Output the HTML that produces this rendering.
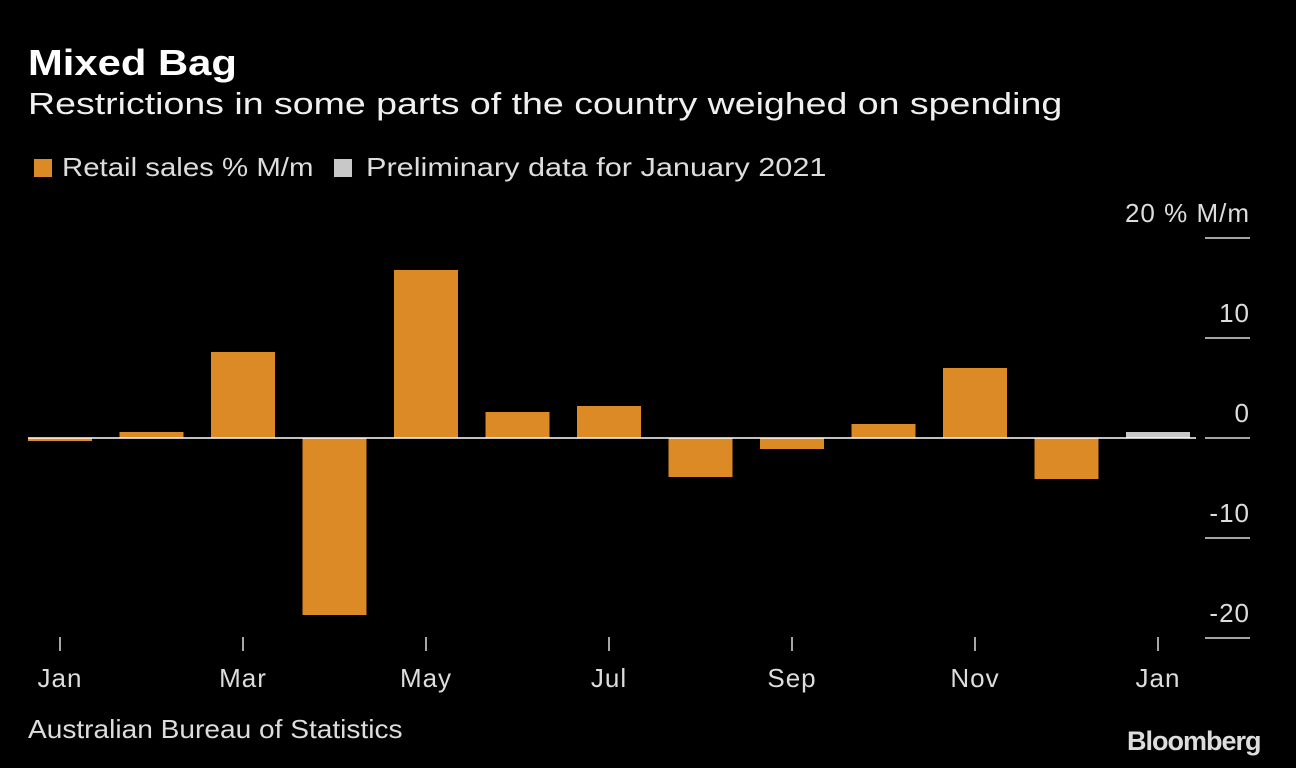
<!DOCTYPE html>
<html><head><meta charset="utf-8"><style>
body{margin:0;background:#000;width:1296px;height:768px;overflow:hidden;font-family:"Liberation Sans",sans-serif;color:#fff}
.t{position:absolute;white-space:nowrap;transform-origin:0 0}
.sq{display:inline-block;width:18px;height:18px;margin-right:10px}
</style></head><body>
<div class="t" style="left:28px;top:42px;font-size:36px;font-weight:bold;transform:scaleX(1.16)">Mixed Bag</div>
<div class="t" style="left:28px;top:86px;font-size:31px;color:#f0f0f0;transform:scaleX(1.21)">Restrictions in some parts of the country weighed on spending</div>
<div class="t" style="left:34px;top:152px;font-size:26px;color:#ddd"><span class="sq" style="background:#dc8a25;position:absolute;left:0;top:7px"></span><span style="position:absolute;left:28px;transform:scaleX(1.13);transform-origin:0 0">Retail sales % M/m</span></div>
<div class="t" style="left:334px;top:152px;font-size:26px;color:#ddd"><span class="sq" style="background:#c8c8c8;position:absolute;left:0;top:7px"></span><span style="position:absolute;left:32px;transform:scaleX(1.18);transform-origin:0 0">Preliminary data for January 2021</span></div>
<div class="t" style="left:28px;top:714px;font-size:26px;color:#ddd;transform:scaleX(1.08)">Australian Bureau of Statistics</div>
<div class="t" style="left:1127px;top:726px;font-size:27px;font-weight:bold;color:#ddd;letter-spacing:-1px">Bloomberg</div>
<svg id="c" width="1296" height="768" style="position:absolute;left:0;top:0"></svg>
<script>
const categories=["Jan","Feb","Mar","Apr","May","Jun","Jul","Aug","Sep","Oct","Nov","Dec","Jan"];
const values=[-0.3,0.6,8.6,-17.7,16.8,2.6,3.2,-3.9,-1.1,1.4,7.0,-4.1,0.6];
const preliminary=[false,false,false,false,false,false,false,false,false,false,false,false,true];
const yTicks=[20,10,0,-10,-20];
const yTickLabels=["20 % M/m","10","0","-10","-20"];
const xLabelIdx=[0,2,4,6,8,10,12];
const svg=document.getElementById('c');const NS='http://www.w3.org/2000/svg';
const y=v=>438-v*10;const x=i=>60+i*91.5;
function mk(t,a){const e=document.createElementNS(NS,t);for(const k in a)e.setAttribute(k,a[k]);svg.appendChild(e);return e;}
yTicks.forEach((v,i)=>{
 const l=mk('line',{x1:1205,x2:1250,y1:y(v),y2:y(v),stroke:'#ddd','stroke-width':1.5});
 
 
 const t=mk('text',{x:1250,y:y(v)-16,'text-anchor':'end','font-size':26,'letter-spacing':1,fill:'#ddd','font-family':'Liberation Sans, sans-serif'});
 t.textContent=yTickLabels[i];
 
 
});
values.forEach((v,i)=>{
 const r=mk('rect',{x:x(i)-32,y:Math.min(y(v),y(0)),width:64,height:Math.abs(y(v)-y(0)),fill:preliminary[i]?'#c8c8c8':'#dc8a25'});
 
 
});
const z=mk('line',{x1:28,x2:1196,y1:y(0),y2:y(0),stroke:'#fff','stroke-width':1.5});


xLabelIdx.forEach(i=>{
 const l=mk('line',{x1:x(i),x2:x(i),y1:637,y2:651,stroke:'#ddd','stroke-width':1.5});
 
 
 const t=mk('text',{x:x(i),y:687,'text-anchor':'middle','font-size':26,'letter-spacing':1,fill:'#ddd','font-family':'Liberation Sans, sans-serif'});
 t.textContent=categories[i];
 
 
});
</script>
</body></html>
